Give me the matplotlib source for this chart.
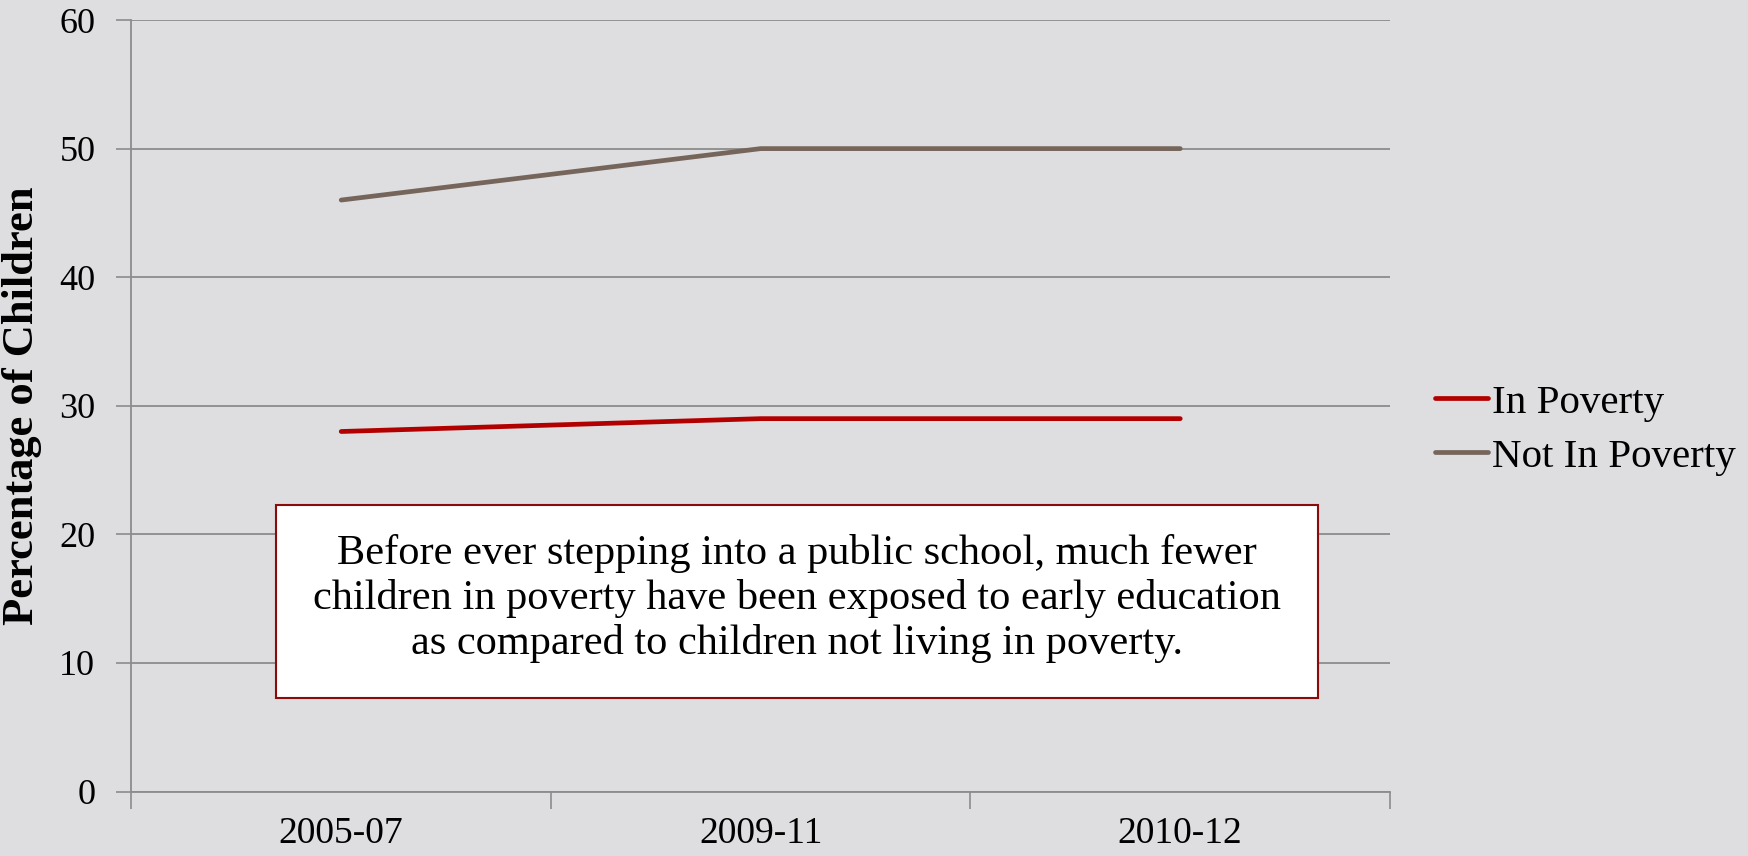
import numpy as np
import matplotlib.pyplot as plt
from matplotlib.patches import Rectangle

# --- data ---
periods = ['2005-07', '2009-11', '2010-12']
in_poverty = [28, 29, 29]
not_in_poverty = [46, 50, 50]
y_ticks = [0, 10, 20, 30, 40, 50, 60]
note = ("Before ever stepping into a public school, much fewer\n"
        "children in poverty have been exposed to early education\n"
        "as compared to children not living in poverty.")

BG = '#DEDDE0'
GRID = '#8C8C8C'
SERIF = ['Liberation Serif', 'DejaVu Serif']

fig = plt.figure(figsize=(17.48, 8.56), dpi=100, facecolor=BG)
ax = fig.add_axes([0.0752, 0.0753, 0.72, 0.9013], facecolor=BG)

x = np.arange(len(periods))
ax.plot(x, in_poverty, color='#B20000', lw=3.4, solid_capstyle='round', label='In Poverty', zorder=3)
ax.plot(x, not_in_poverty, color='#76655B', lw=3.4, solid_capstyle='round', label='Not In Poverty', zorder=3)

ax.set_xlim(-0.5, len(periods) - 0.5)
ax.set_ylim(0, 60)

# y axis
ax.set_yticks(y_ticks)
ax.set_yticklabels([str(v) for v in y_ticks], family=SERIF, fontsize=26)
ax.yaxis.grid(True, color=GRID, lw=1.3)
ax.set_axisbelow(True)

# x axis: tick marks at boundaries, labels at centers
ax.set_xticks(np.arange(-0.5, len(periods), 1.0))
ax.set_xticklabels([])
ax.set_xticks(x, minor=True)
ax.set_xticklabels(periods, minor=True, family=SERIF, fontsize=27)
ax.tick_params(axis='x', which='major', length=12, color=GRID, width=1.2, direction='out')
ax.tick_params(axis='x', which='minor', length=0, pad=18)
ax.tick_params(axis='y', length=11, color=GRID, width=1.2, pad=15)

for s in ['top', 'right']:
    ax.spines[s].set_visible(False)
for s in ['left', 'bottom']:
    ax.spines[s].set_color(GRID)
    ax.spines[s].set_linewidth(1.3)

ax.set_ylabel('Percentage of Children', family=SERIF, fontsize=32, fontweight='bold')
ax.yaxis.set_label_coords(-0.071, 0.5)

# note box
ax.add_patch(Rectangle((-0.156, 7.27), 2.328 + 0.156, 22.28 - 7.27,
                       facecolor='white', edgecolor='#8B0A0A', lw=1.5, zorder=4))
ax.text(1.087, 15.0, note, ha='center', va='center', family=SERIF, fontsize=30.5,
        linespacing=1.2, zorder=5)

leg = fig.legend(loc='center left', bbox_to_anchor=(0.8, 0.498), frameon=False,
                 prop={'family': SERIF, 'size': 29.5}, handlelength=1.28,
                 handletextpad=0.1, labelspacing=0.4)

fig.savefig('out.png', dpi=100, facecolor=BG)
